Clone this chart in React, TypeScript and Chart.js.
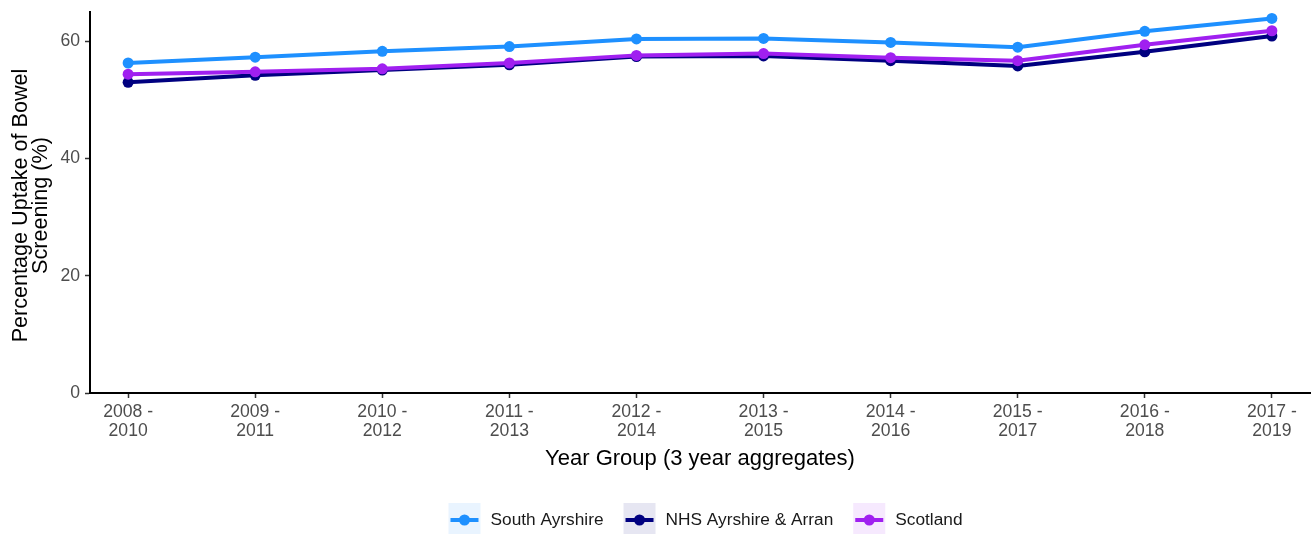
import React, { useEffect, useRef } from "react";
import { Chart, registerables } from "chart.js";

Chart.register(...registerables);

// ---- Data ----
const yearGroups = [
  "2008 - 2010",
  "2009 - 2011",
  "2010 - 2012",
  "2011 - 2013",
  "2012 - 2014",
  "2013 - 2015",
  "2014 - 2016",
  "2015 - 2017",
  "2016 - 2018",
  "2017 - 2019",
];
const southAyrshire = [56.3, 57.3, 58.3, 59.1, 60.4, 60.5, 59.8, 59.0, 61.7, 63.9];
const nhsAyrshireArran = [53.0, 54.2, 55.1, 56.0, 57.4, 57.5, 56.7, 55.8, 58.2, 60.9];
const scotland = [54.4, 54.8, 55.3, 56.3, 57.6, 57.9, 57.2, 56.7, 59.4, 61.8];
const seriesNames = ["South Ayrshire", "NHS Ayrshire & Arran", "Scotland"];
const seriesColors = ["#1E90FF", "#000080", "#A020F0"];
const keyFills = ["#E9F4FF", "#E6E6F2", "#F6E9FE"];
const yTicks = [0, 20, 40, 60];
const xTitle = "Year Group (3 year aggregates)";
const yTitle = ["Percentage Uptake of Bowel ", "Screening (%) "];

const FONT = "'Liberation Sans', Arial, Helvetica, sans-serif";

const legendPlugin = {
  id: "ggLegend",
  afterDraw(chart: any) {
    const ctx = chart.ctx as CanvasRenderingContext2D;
    ctx.save();
    ctx.font = `17.3px ${FONT}`;
    const keyW = 32;
    const keyH = 34;
    const gapKT = 10;
    const gapItems = 20;
    const widths = seriesNames.map((n) => ctx.measureText(n).width);
    const total =
      widths.reduce((a, w) => a + keyW + gapKT + w, 0) + gapItems * (seriesNames.length - 1);
    const center = 705.5;
    let x = center - total / 2;
    const top = 503;
    const cy = top + keyH / 2;
    seriesNames.forEach((name, i) => {
      ctx.fillStyle = keyFills[i];
      ctx.fillRect(x, top, keyW, keyH);
      ctx.strokeStyle = seriesColors[i];
      ctx.lineWidth = 4;
      ctx.beginPath();
      ctx.moveTo(x + 2, cy);
      ctx.lineTo(x + keyW - 2, cy);
      ctx.stroke();
      ctx.fillStyle = seriesColors[i];
      ctx.beginPath();
      ctx.arc(x + keyW / 2, cy, 5.5, 0, Math.PI * 2);
      ctx.fill();
      ctx.fillStyle = "#1A1A1A";
      ctx.textAlign = "left";
      ctx.textBaseline = "middle";
      ctx.fillText(name, x + keyW + gapKT, cy);
      x += keyW + gapKT + widths[i] + gapItems;
    });
    ctx.restore();
  },
};

const zeroPad = (s: any) => {
  s.paddingLeft = 0;
  s.paddingRight = 0;
  s.paddingTop = 0;
  s.paddingBottom = 0;
};

export default function App() {
  const canvasRef = useRef<HTMLCanvasElement | null>(null);

  useEffect(() => {
    if (!canvasRef.current) return;
    Chart.defaults.font.family = FONT;
    const seriesValues = [southAyrshire, nhsAyrshireArran, scotland];
    const orders = [2, 1, 0];
    const chart = new Chart(canvasRef.current, {
      type: "line",
      data: {
        datasets: seriesNames.map((name, i) => ({
          label: name,
          data: seriesValues[i].map((v, j) => ({ x: j, y: v })),
          borderColor: seriesColors[i],
          backgroundColor: seriesColors[i],
          pointBackgroundColor: seriesColors[i],
          pointBorderColor: seriesColors[i],
          borderWidth: 4,
          pointRadius: 5.5,
          pointBorderWidth: 0,
          tension: 0,
          fill: false,
          order: orders[i],
        })),
      },
      options: {
        responsive: false,
        animation: false,
        devicePixelRatio: 1,
        layout: { autoPadding: false, padding: { top: 12, right: 2, bottom: 0, left: 0 } },
        plugins: {
          legend: { display: false },
          tooltip: { enabled: false },
        },
        scales: {
          x: {
            type: "linear",
            min: -0.3,
            max: 9.3,
            afterBuildTicks: (s: any) => {
              s.ticks = yearGroups.map((_, i) => ({ value: i }));
            },
            afterFit: (s: any) => {
              s.height = 141;
              zeroPad(s);
            },
            ticks: {
              autoSkip: false,
              maxRotation: 0,
              minRotation: 0,
              color: "#4D4D4D",
              padding: 5,
              font: { size: 17.6, lineHeight: 1.08 },
              callback: (v: any) => {
                const g = yearGroups[Math.round(Number(v))];
                if (!g) return "";
                const [a, b] = g.split(" - ");
                return [a + " -", b];
              },
            },
            grid: {
              display: true,
              drawOnChartArea: false,
              drawTicks: true,
              tickLength: 5,
              tickColor: "#333333",
              tickWidth: 1.5,
            },
            border: { display: true, color: "#000000", width: 2 },
            title: {
              display: true,
              text: xTitle,
              color: "#000000",
              font: { size: 22, lineHeight: 0.9 },
              padding: { top: 0, bottom: 65 },
            },
          },
          y: {
            min: 0,
            max: 65,
            afterBuildTicks: (s: any) => {
              s.ticks = yTicks.map((v) => ({ value: v }));
            },
            afterFit: (s: any) => {
              s.width = 90;
              zeroPad(s);
            },
            ticks: {
              color: "#4D4D4D",
              padding: 5,
              font: { size: 17.6 },
            },
            grid: {
              display: true,
              drawOnChartArea: false,
              drawTicks: true,
              tickLength: 5,
              tickColor: "#333333",
              tickWidth: 1.5,
            },
            border: { display: true, color: "#000000", width: 2 },
            title: {
              display: true,
              text: yTitle,
              color: "#000000",
              font: { size: 21.6, lineHeight: 0.92 },
              padding: { top: 11, bottom: 0 },
            },
          },
        },
      },
      plugins: [legendPlugin],
    } as any);
    return () => chart.destroy();
  }, []);

  return (
    <div
      style={{
        position: "fixed",
        left: 0,
        top: 0,
        width: 1312,
        height: 534,
        background: "#ffffff",
      }}
    >
      <canvas ref={canvasRef} width={1312} height={534} style={{ display: "block" }} />
    </div>
  );
}
